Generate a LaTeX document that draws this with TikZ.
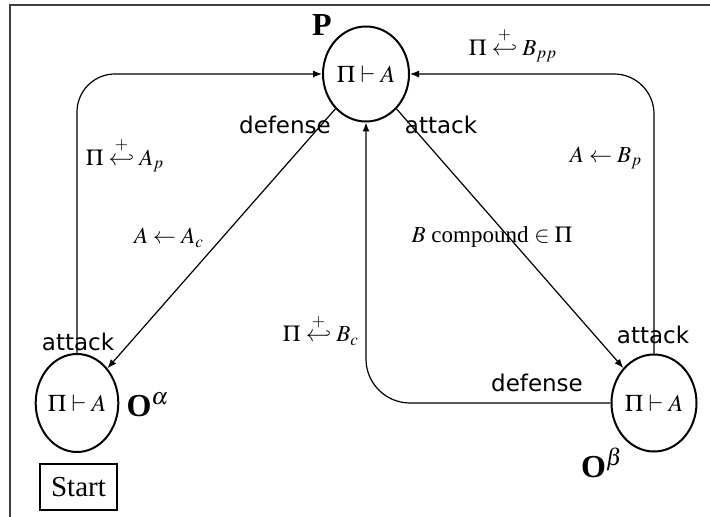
\documentclass[tikz,border=0pt]{standalone}
\usepackage{mathptmx}
\usepackage[no-math]{fontspec}
\setmainfont{Liberation Serif}
\newfontfamily\labelsans{DejaVu Sans}
\usetikzlibrary{arrows.meta,shapes.geometric}

\begin{document}
\begin{tikzpicture}[x=0.5pt, y=-0.5pt, >={Latex[length=4.5pt,width=3.5pt]},
  state/.style={draw, ellipse, line width=1pt, inner sep=0pt, font=\fontsize{12}{14}\selectfont},
  move/.style={font=\labelsans\fontsize{11.5}{13}\selectfont},
  rule/.style={font=\fontsize{11.5}{13}\selectfont},
  player/.style={font=\bfseries\fontsize{16}{18}\selectfont},
  link/.style={->, line width=0.6pt}]
  \useasboundingbox (0,0) rectangle (710,517);
  \draw[line width=0.8pt, black!75] (10,517) -- (10,5) -- (710,5);
  % states
  \node[state, minimum width=43pt, minimum height=47.5pt] (P) at (366,74) {$\Pi\vdash A$};
  \node[state, minimum width=41pt, minimum height=49pt] (Oa) at (77,403) {$\Pi\vdash A$};
  \node[state, minimum width=42.5pt, minimum height=48.5pt] (Ob) at (654,403) {$\Pi\vdash A$};
  \node[draw, line width=0.6pt, minimum width=38.5pt, minimum height=23pt,
    font=\fontsize{14.5}{16}\selectfont] (start) at (78.5,487) {Start};
  \node[player] (pP) at (322,25) {P};
  \node[player] (pOa) at (148,405) {O\rlap{$^{\scriptstyle\alpha}$}\hphantom{$^{\scriptstyle\alpha}$}};
  \node[player] (pOb) at (602,463) {O\rlap{$^{\scriptstyle\beta}$}\hphantom{$^{\scriptstyle\beta}$}};
  % moves
  \draw[link, rounded corners=19pt] (Oa.north) |- (P.west);
  \draw[link, rounded corners=20pt] (Ob.north) |- (P.east);
  \draw[link, rounded corners=22pt] (Ob.west) -| (P.south);
  \draw[link] (P) -- (Oa);
  \draw[link] (P) -- (Ob);
  % labels
  \node[move] (dP) at (285,125) {defense};
  \node[move] (aP) at (441,125) {attack};
  \node[move] (aOa) at (78,342) {attack};
  \node[move] (aOb) at (653,335) {attack};
  \node[move] (dOb) at (537,383) {defense};
  \node[rule] (rAp) at (125,155) {$\Pi\stackrel{+}{\hookleftarrow}A_p$};
  \node[rule] (rAc) at (169,238) {$A\leftarrow A_c$};
  \node[rule] (rBpp) at (513,45) {$\Pi\stackrel{+}{\hookleftarrow}B_{pp}$};
  \node[rule] (rBp) at (606,158) {$A\leftarrow B_p$};
  \node[rule] (rcomp) at (492,237) {$B$ compound $\in\Pi$};
  \node[rule] (rBc) at (321,330) {$\Pi\stackrel{+}{\hookleftarrow}B_c$};
\end{tikzpicture}
\end{document}
